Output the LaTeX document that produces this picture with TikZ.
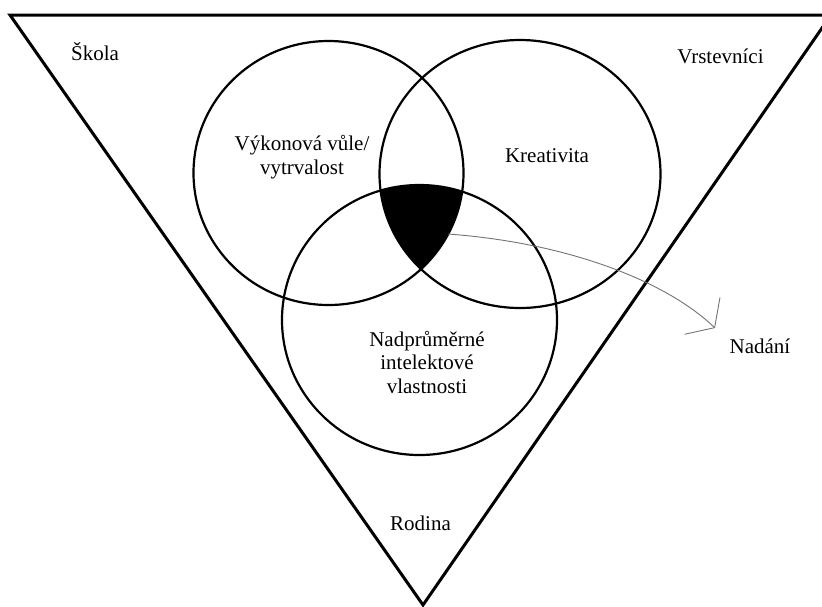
\documentclass[tikz,border=0pt]{standalone}
\usepackage{fontspec}
\setmainfont{Liberation Serif}
\usetikzlibrary{arrows.meta}
\begin{document}
\begin{tikzpicture}[x=1pt,y=-1pt,
  lbl/.style={inner sep=0pt, anchor=base, font=\fontsize{21}{23.5}\selectfont, align=center, text=black},
  venn/.style={line width=2.2pt},
  frame/.style={line width=3pt, line join=miter},
  conn/.style={draw=black!55, line width=0.9pt, -{Straight Barb[length=17pt,width=51pt]}}]
\useasboundingbox (0,0) rectangle (822,606);
\clip (0,0) rectangle (822,606);
% triangle
\draw[frame] (10,15) -- (831,15) -- (423,605) -- cycle;
% black intersection
\begin{scope}
  \clip (328.5,173) ellipse [x radius=135pt, y radius=132pt];
  \clip (520,174) ellipse [x radius=140.5pt, y radius=134pt];
  \fill (419.5,320) ellipse [x radius=137.5pt, y radius=135pt];
\end{scope}
% circles
\draw[venn] (328.5,173) ellipse [x radius=135pt, y radius=132pt];
\draw[venn] (520,174) ellipse [x radius=140.5pt, y radius=134pt];
\draw[venn] (419.5,320) ellipse [x radius=137.5pt, y radius=135pt];
% labels (base anchor = baseline of the last line)
\node[lbl] (skola) at (95,60) {Škola};
\node[lbl] (vrst) at (720.5,63) {Vrstevníci};
\node[lbl] (vykon) at (302,174) {Výkonová vůle/\\vytrvalost};
\node[lbl] (kreat) at (547,162) {Kreativita};
\node[lbl] (nadpr) at (427,393) {Nadprůměrné\\intelektové\\vlastnosti};
\node[lbl] (nadani) at (760,353) {Nadání};
\node[lbl] (rodina) at (420.5,530) {Rodina};
% connector
\coordinate (gstart) at (448,234);
\coordinate (gend) at (715,328);
\draw[conn] (gstart) .. controls (570,243) and (667,282) .. (gend);
\end{tikzpicture}
\end{document}
